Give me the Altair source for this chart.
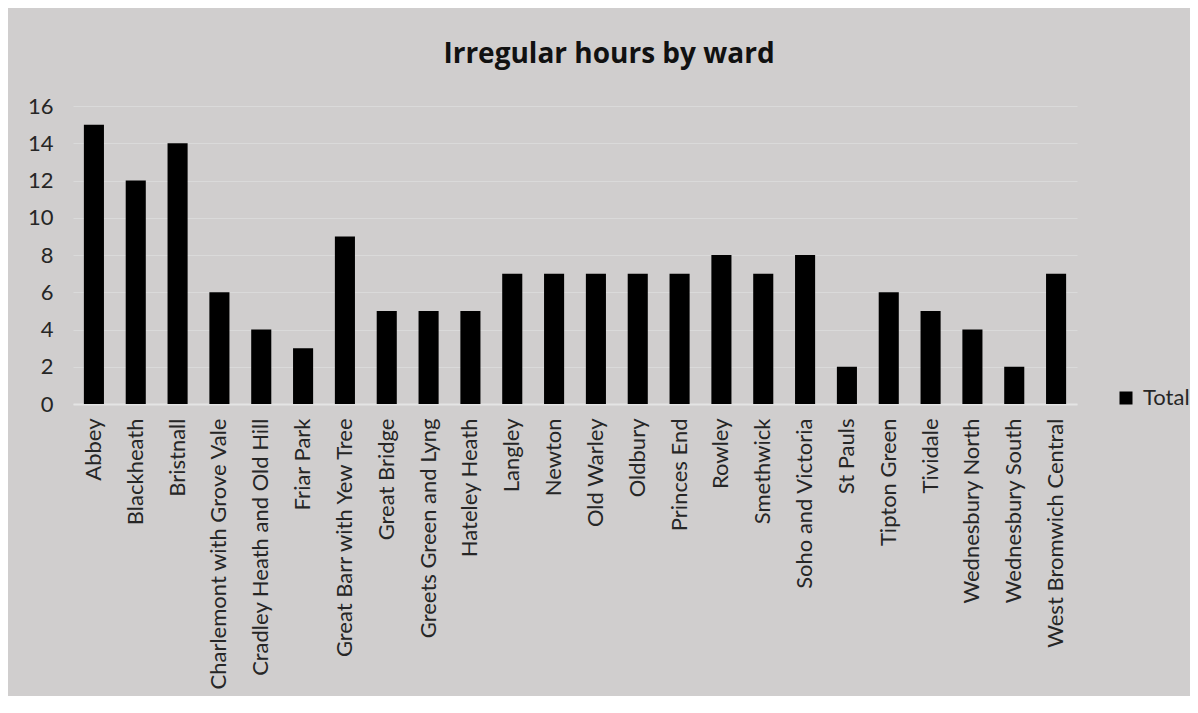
import altair as alt
import pandas as pd

wards = [
    "Abbey", "Blackheath", "Bristnall", "Charlemont with Grove Vale",
    "Cradley Heath and Old Hill", "Friar Park", "Great Barr with Yew Tree",
    "Great Bridge", "Greets Green and Lyng", "Hateley Heath", "Langley",
    "Newton", "Old Warley", "Oldbury", "Princes End", "Rowley", "Smethwick",
    "Soho and Victoria", "St Pauls", "Tipton Green", "Tividale",
    "Wednesbury North", "Wednesbury South", "West Bromwich Central",
]
totals = [15, 12, 14, 6, 4, 3, 9, 5, 5, 5, 7, 7, 7, 7, 7, 8, 7, 8, 2, 6, 5, 4, 2, 7]
series = ["Total"] * len(wards)

df = pd.DataFrame({"Ward": wards, "Hours": totals, "Series": series})

FONT = "Lato"
TEXT = "#262626"
BG = "#D0CECE"

chart = (
    alt.Chart(df)
    .mark_bar(color="black")
    .encode(
        x=alt.X(
            "Ward:N",
            sort=wards,
            title=None,
            scale=alt.Scale(paddingInner=0.52, paddingOuter=0.26),
            axis=alt.Axis(
                labelAngle=-90,
                labelFont=FONT,
                labelFontSize=22,
                labelColor=TEXT,
                labelLimit=400,
                labelPadding=14,
                ticks=False,
                domainColor="#E4E4E4",
                domainWidth=2,
            ),
        ),
        y=alt.Y(
            "Hours:Q",
            title=None,
            scale=alt.Scale(domain=[0, 16]),
            axis=alt.Axis(
                values=[0, 2, 4, 6, 8, 10, 12, 14, 16],
                labelFont=FONT,
                labelFontSize=22,
                labelColor=TEXT,
                labelPadding=20,
                ticks=False,
                domain=False,
                gridColor="#DADADA",
                gridWidth=1,
            ),
        ),
        color=alt.Color(
            "Series:N",
            scale=alt.Scale(domain=["Total"], range=["black"]),
            legend=alt.Legend(
                title=None,
                orient="none",
                legendX=1042,
                legendY=281,
                symbolType="square",
                symbolSize=169,
                symbolStrokeWidth=0,
                labelFont=FONT,
                labelFontSize=22,
                labelColor=TEXT,
                labelOffset=6,
            ),
        ),
    )
    .properties(
        width=1004,
        height=298,
        background=BG,
        autosize=alt.AutoSizeParams(type="none"),
        padding={"left": 65, "top": 98, "right": 113, "bottom": 292},
        title=alt.TitleParams(
            "Irregular hours by ward",
            font="Open Sans",
            fontSize=28,
            fontWeight="bold",
            color="#111111",
            anchor="middle",
            dx=34,
            offset=26,
        ),
    )
    .configure_view(stroke=None)
)

chart.save("out.html", embed_options={"renderer": "svg", "actions": False})
